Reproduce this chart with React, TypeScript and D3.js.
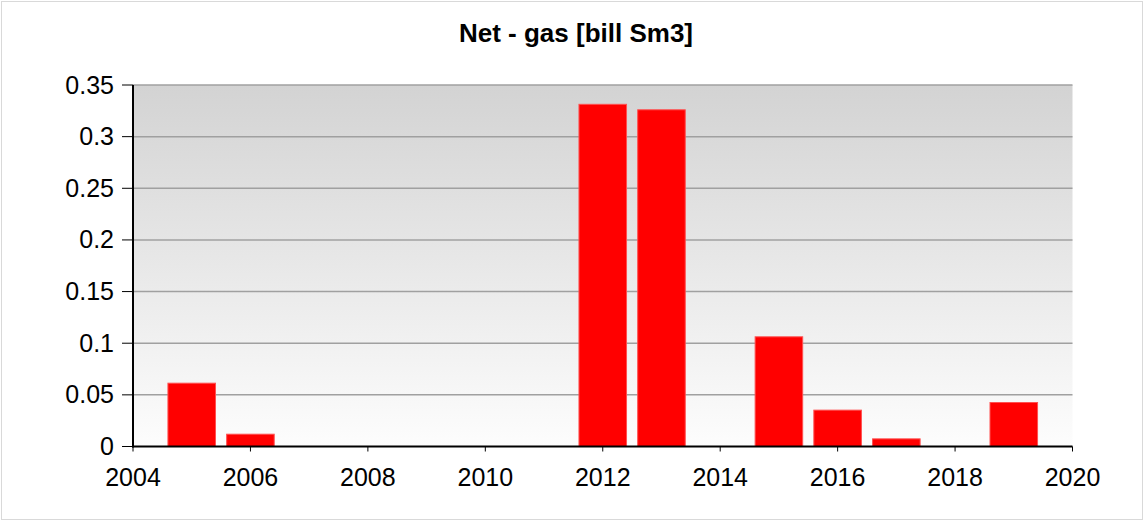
import React from "react";
import * as d3 from "d3";

const years = [2005, 2006, 2012, 2013, 2015, 2016, 2017, 2019];
const values = [0.0613, 0.0119, 0.3313, 0.326, 0.1062, 0.0352, 0.0074, 0.0426];
const yTicks = [0, 0.05, 0.1, 0.15, 0.2, 0.25, 0.3, 0.35];
const xTicks = [2004, 2006, 2008, 2010, 2012, 2014, 2016, 2018, 2020];
const title = "Net - gas [bill Sm3]";

export default function App() {
  const W = 1146, H = 522;
  const left = 133, right = 1072.5, top = 85, bottom = 446.5;
  const x = d3.scaleLinear().domain([2004, 2020]).range([left, right]);
  const y = d3.scaleLinear().domain([0, 0.35]).range([bottom, top]);
  const bw = (x(2005) - x(2004)) * 0.81;
  const font = "'Liberation Sans', Arial, sans-serif";
  return (
    <svg width={W} height={H} style={{ position: "absolute", left: 0, top: 0 }}>
      <defs>
        <linearGradient id="bg" x1="0" y1="0" x2="0" y2="1">
          <stop offset="0" stopColor="#d3d3d3" />
          <stop offset="1" stopColor="#fdfdfd" />
        </linearGradient>
      </defs>
      <rect x={0} y={0} width={W} height={H} fill="#fff" />
      <rect x={1.5} y={1.5} width={W - 5} height={H - 4} fill="none" stroke="#d9d9d9" strokeWidth={1} />
      <text x={576} y={42} textAnchor="middle" fontFamily={font} fontWeight="bold" fontSize={26} fill="#000">{title}</text>
      <rect x={left} y={top} width={right - left} height={bottom - top} fill="url(#bg)" />
      {yTicks.map((t) => (
        <g key={t}>
          {t > 0 && <line x1={left} x2={right} y1={y(t)} y2={y(t)} stroke="#a0a0a0" strokeWidth={1.5} />}
          <line x1={122} x2={left} y1={y(t)} y2={y(t)} stroke="#000" strokeWidth={1} />
          <text x={114} y={y(t) + 8.5} textAnchor="end" fontFamily={font} fontSize={25} fill="#000">{String(t)}</text>
        </g>
      ))}
      {years.map((yr, i) => (
        <rect key={yr} x={x(yr) - bw / 2} y={y(values[i])} width={bw} height={bottom - y(values[i])}
          fill="#ff0000" stroke="#ff5050" strokeWidth={1} />
      ))}
      {xTicks.map((t) => (
        <g key={t}>
          <line x1={x(t)} x2={x(t)} y1={bottom} y2={bottom + 5} stroke="#000" strokeWidth={1} />
          <text x={x(t)} y={bottom + 39} textAnchor="middle" fontFamily={font} fontSize={25} fill="#000">{t}</text>
        </g>
      ))}
      <line x1={left} x2={left} y1={top} y2={bottom + 1} stroke="#000" strokeWidth={2} />
      <line x1={left - 1} x2={right} y1={bottom} y2={bottom} stroke="#000" strokeWidth={2} />
    </svg>
  );
}
